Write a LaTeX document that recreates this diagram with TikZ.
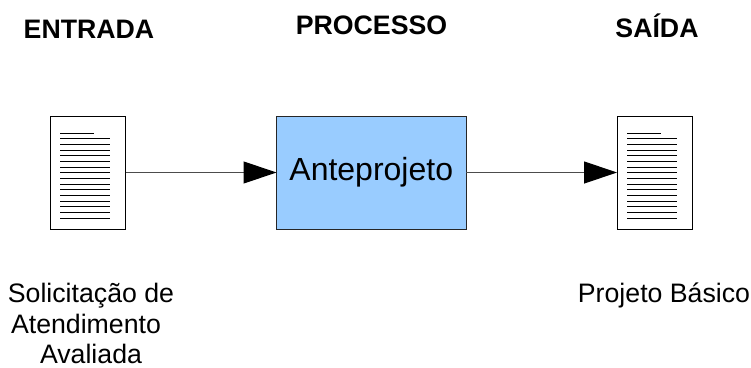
\documentclass[tikz,border=0pt]{standalone}
\usepackage{fontspec}
\setmainfont{Liberation Sans}
\usetikzlibrary{arrows.meta}
\usetikzlibrary{positioning}

\tikzset{
  doc/.style={draw,line width=1pt,outer sep=0pt,minimum width=75.5pt,minimum height=113pt,inner sep=0pt},
  proc/.style={draw=black!85,fill=procblue,line width=1pt,outer sep=0pt,minimum width=189.5pt,minimum height=113pt,inner sep=0pt,font=\fontsize{32}{32}\selectfont},
  flow/.style={draw=black!70,line width=1.2pt,-{Triangle[length=33pt,width=22pt,color=black]}},
  head/.style={anchor=base,font=\fontsize{26.7}{30}\selectfont\bfseries},
  lbl/.style={anchor=base,inner sep=0pt,font=\fontsize{26.7}{31.5}\selectfont},
  docline/.style={line width=1pt}
}
\definecolor{procblue}{HTML}{99CCFF}

% text lines of a document icon
\newcommand{\doclines}[1]{
  \draw[docline] ([xshift=10pt,yshift=-17.3pt]#1.north west) -- ++(33.5pt,0);
  \foreach \n in {1,...,15}
    \draw[docline] ([xshift=10pt,yshift=-17.3pt-\n*5.667pt]#1.north west) -- ++(50pt,0);
}

\begin{document}
\begin{tikzpicture}[x=1pt,y=-1pt]
    \useasboundingbox (0,0) rectangle (751,367);

    \node[doc] (docin) at (87.75,172.5) {};
    \node[proc,right=151pt of docin] (ante) {Anteprojeto};
    \node[doc,right=151pt of ante] (docout) {};

    \doclines{docin}
    \doclines{docout}

    \node[head] (entrada) at (89,38) {ENTRADA};
    \node[head] (processo) at (371.5,34) {PROCESSO};
    \node[head] (saida) at (657,37) {SAÍDA};

    \node[lbl] (solic) at (91,302) {Solicitação de};
    \node[lbl] (atend) at (86,333) {Atendimento};
    \node[lbl] (aval) at (91,363.5) {Avaliada};
    \node[lbl] (basico) at (664,302) {Projeto Básico};

    \draw[flow] (docin) -- (ante);
    \draw[flow] (ante) -- (docout);

\end{tikzpicture}
\end{document}
